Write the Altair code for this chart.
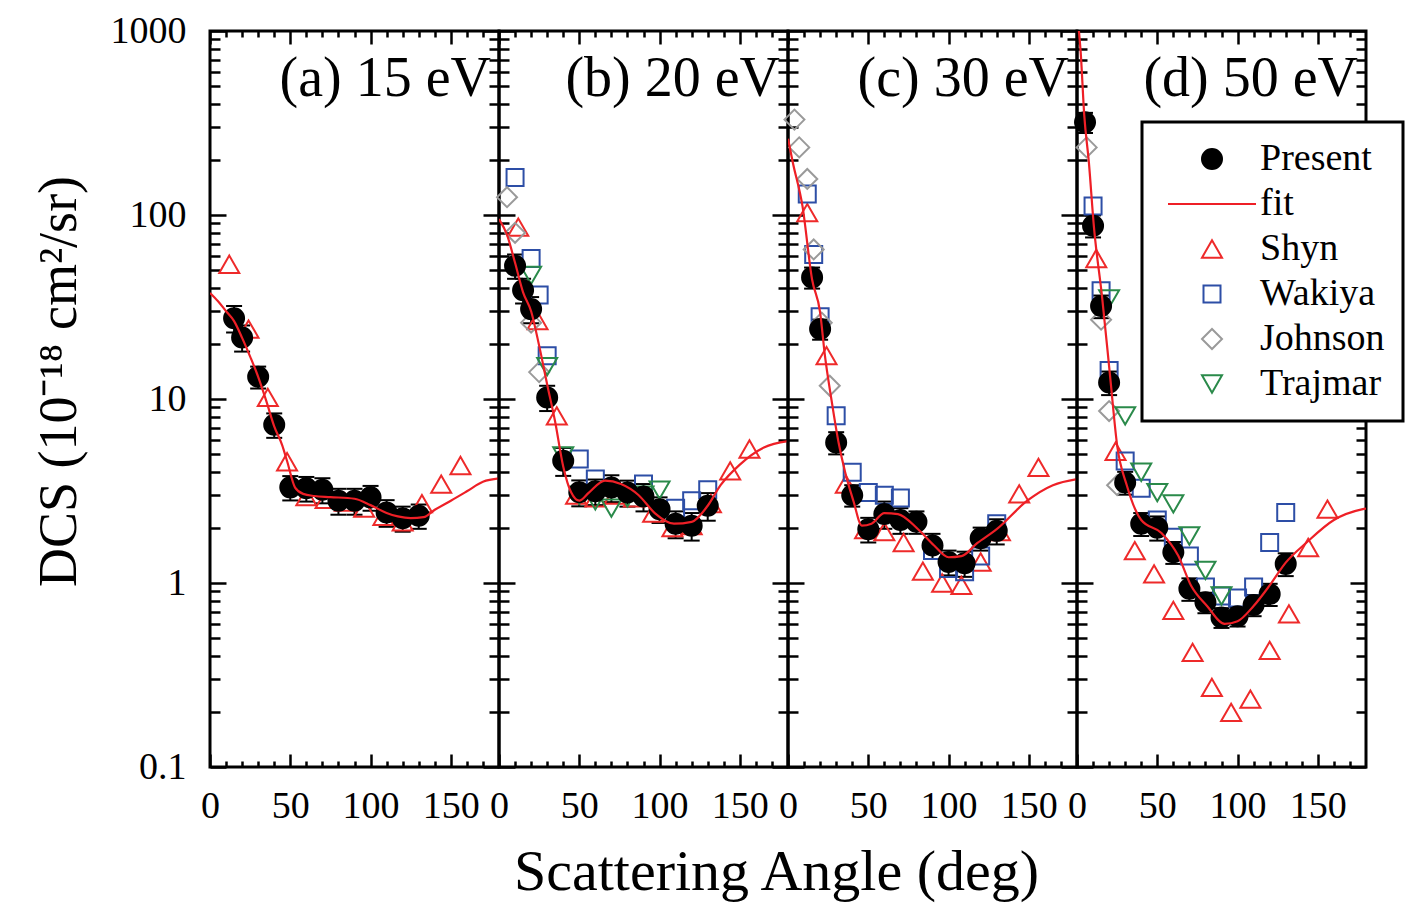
import altair as alt
import pandas as pd

FONT = "Liberation Serif"

SERIES = ["Present", "fit", "Shyn", "Wakiya", "Johnson", "Trajmar"]
SHAPES = ["circle", "M-4.4,0H4.4", "triangle-up", "M-0.85,-0.85H0.85V0.85H-0.85Z",
          "diamond", "triangle-down"]
STROKES = ["#000000", "#ee1f26", "#ee2a2a", "#2d4ea6", "#9a9a9a", "#2a8a4a"]
FILLS = ["#000000", "transparent", "transparent", "transparent", "transparent", "transparent"]

PANEL_KEYS = ["a", "b", "c", "d"]
PANEL_LABELS = ["(a) 15 eV", "(b) 20 eV", "(c) 30 eV", "(d) 50 eV"]
LABEL_ANGLE = 180      # panel labels are right-aligned at the right edge
LABEL_DCS = 443        # baseline height of the panel labels (data units)

Y_MAJOR = [0.1, 1, 10, 100, 1000]
Y_MINOR = [0.2, 0.3, 0.4, 0.5, 0.6, 0.7, 0.8, 0.9,
           2, 3, 4, 5, 6, 7, 8, 9,
           20, 30, 40, 50, 60, 70, 80, 90,
           200, 300, 400, 500, 600, 700, 800, 900]
X_MAJOR = [0, 50, 100, 150]
X_MINOR = [10, 20, 30, 40, 60, 70, 80, 90, 110, 120, 130, 140, 160, 170]

# ---------------- (a) 15 eV ----------------
present_a_angle = [15, 20, 30, 40, 50, 60, 70, 80, 90, 100, 110, 120, 130]
present_a_dcs = [27.5, 21.6, 13.2, 7.25, 3.31, 3.27, 3.21, 2.80, 2.80, 2.92, 2.42, 2.25, 2.32]
present_a_err = [4.5, 3.5, 1.8, 1.1, 0.5, 0.5, 0.5, 0.45, 0.45, 0.45, 0.4, 0.35, 0.35]
shyn_a_angle = [12, 24, 36, 48, 60, 72, 84, 96, 108, 120, 132, 144, 156]
shyn_a_dcs = [54, 24, 10.2, 4.56, 2.95, 2.85, 2.75, 2.55, 2.3, 2.15, 2.7, 3.45, 4.35]
fit_a_angle = [0, 5, 10, 15, 20, 25, 30, 35, 40, 45, 48, 53, 58, 65, 75, 90, 100, 110, 117, 125, 133, 140, 150, 160, 170, 180]
fit_a_dcs = [37.7, 34, 30, 26.5, 21.5, 17, 13.2, 9.8, 7.1, 5.6, 4.6, 3.3, 3.05, 2.97, 2.93, 2.87, 2.65, 2.4, 2.3, 2.25, 2.28, 2.5, 2.8, 3.15, 3.55, 3.7]

# ---------------- (b) 20 eV ----------------
present_b_angle = [10, 15, 20, 30, 40, 50, 60, 70, 80, 90, 100, 110, 120, 130]
present_b_dcs = [53, 39, 30.8, 10.2, 4.62, 3.11, 3.15, 3.3, 3.1, 2.95, 2.52, 2.1, 2.05, 2.63]
present_b_err = [8, 6, 5, 1.6, 0.8, 0.5, 0.5, 0.55, 0.5, 0.5, 0.4, 0.35, 0.35, 0.45]
shyn_b_angle = [12, 24, 36, 48, 60, 72, 84, 96, 108, 120, 132, 144, 156]
shyn_b_dcs = [86, 26.7, 8.1, 3.0, 2.9, 3.0, 2.9, 2.4, 2.0, 2.05, 2.7, 4.07, 5.35]
wakiya_b_angle = [10, 20, 25, 30, 50, 60, 90, 110, 120, 130]
wakiya_b_dcs = [160, 58, 36.7, 17.2, 4.72, 3.67, 3.45, 2.55, 2.8, 3.21]
johnson_b_angle = [5, 10, 20, 25]
johnson_b_dcs = [125, 80, 26, 14]
trajmar_b_angle = [20, 30, 40, 50, 60, 70, 80, 90, 100]
trajmar_b_dcs = [47, 15, 4.9, 3.0, 2.8, 2.55, 2.9, 3.0, 3.2]
fit_b_angle = [0, 5, 10, 15, 20, 25, 30, 35, 40, 45, 50, 56, 66, 76, 87, 97, 109, 120, 130, 138, 150, 165, 180]
fit_b_dcs = [95, 78, 55, 38, 30, 19.5, 12, 7.5, 4.3, 3.1, 2.8, 3.1, 3.6, 3.45, 3.0, 2.4, 2.1, 2.15, 2.63, 3.4, 4.4, 5.45, 5.9]

# ---------------- (c) 30 eV ----------------
present_c_angle = [15, 20, 30, 40, 50, 60, 70, 80, 90, 100, 110, 120, 130]
present_c_dcs = [45.8, 24, 5.8, 3.0, 1.96, 2.37, 2.2, 2.15, 1.6, 1.3, 1.28, 1.75, 1.92]
present_c_err = [6, 3, 0.8, 0.4, 0.3, 0.4, 0.35, 0.3, 0.25, 0.2, 0.2, 0.25, 0.3]
shyn_c_angle = [12, 24, 36, 48, 60, 72, 84, 96, 108, 120, 132, 144, 156]
shyn_c_dcs = [103, 17.2, 3.45, 1.95, 1.9, 1.66, 1.16, 1.0, 0.97, 1.3, 1.9, 3.05, 4.25]
wakiya_c_angle = [12, 16, 20, 30, 40, 50, 60, 70, 90, 100, 110, 120, 130]
wakiya_c_dcs = [130, 61, 28, 8.1, 4.0, 3.1, 3.0, 2.9, 1.5, 1.2, 1.15, 1.4, 2.1]
johnson_c_angle = [4, 7, 12, 16, 21, 26]
johnson_c_dcs = [330, 233, 157, 65, 26, 11.8]
fit_c_angle = [0, 3, 9, 15, 20, 23, 27, 31.5, 35.6, 40.7, 46, 52, 60, 68.5, 81, 91, 100, 108, 118, 130, 149, 165, 180]
fit_c_dcs = [260, 193, 112, 44.6, 29.6, 17.2, 10, 5.8, 4.0, 2.8, 2.05, 2.1, 2.4, 2.37, 1.96, 1.6, 1.38, 1.4, 1.65, 1.96, 2.8, 3.4, 3.67]

# ---------------- (d) 50 eV ----------------
present_d_angle = [5, 10, 15, 20, 30, 40, 50, 60, 70, 80, 90, 100, 110, 120, 130]
present_d_dcs = [319, 87.5, 32, 12.3, 3.52, 2.1, 2.0, 1.47, 0.93, 0.785, 0.65, 0.66, 0.76, 0.87, 1.27]
present_d_err = [40, 12, 4.5, 1.8, 0.5, 0.3, 0.3, 0.2, 0.13, 0.1, 0.08, 0.08, 0.1, 0.12, 0.18]
shyn_d_angle = [12, 24, 36, 48, 60, 72, 84, 96, 108, 120, 132, 144, 156]
shyn_d_dcs = [58, 5.2, 1.5, 1.12, 0.71, 0.42, 0.271, 0.198, 0.234, 0.43, 0.68, 1.56, 2.52]
wakiya_d_angle = [10, 15, 20, 30, 40, 50, 60, 70, 80, 90, 100, 110, 120, 130]
wakiya_d_dcs = [112, 38.8, 14.3, 4.6, 3.27, 2.2, 1.77, 1.4, 0.95, 0.85, 0.83, 0.95, 1.66, 2.42]
johnson_d_angle = [6, 15, 20, 25]
johnson_d_dcs = [233, 27, 8.6, 3.4]
trajmar_d_angle = [20, 30, 40, 50, 60, 70, 80, 90]
trajmar_d_dcs = [35, 8.1, 4.0, 3.1, 2.69, 1.8, 1.17, 0.85]
fit_d_angle = [1.2, 2.3, 4.5, 7.4, 10.5, 15.6, 20.8, 25, 31, 40, 52.6, 63, 71, 81, 92, 100, 110, 120, 130, 143, 160, 178, 180]
fit_d_dcs = [1000, 766, 350, 193, 87, 36, 12.8, 5.6, 3.4, 2.2, 1.87, 1.41, 0.97, 0.75, 0.6, 0.62, 0.75, 0.97, 1.29, 1.66, 2.2, 2.52, 2.54]

MEAS = {
    "a": [("Shyn", shyn_a_angle, shyn_a_dcs, None),
          ("Present", present_a_angle, present_a_dcs, present_a_err)],
    "b": [("Shyn", shyn_b_angle, shyn_b_dcs, None),
          ("Wakiya", wakiya_b_angle, wakiya_b_dcs, None),
          ("Johnson", johnson_b_angle, johnson_b_dcs, None),
          ("Trajmar", trajmar_b_angle, trajmar_b_dcs, None),
          ("Present", present_b_angle, present_b_dcs, present_b_err)],
    "c": [("Shyn", shyn_c_angle, shyn_c_dcs, None),
          ("Wakiya", wakiya_c_angle, wakiya_c_dcs, None),
          ("Johnson", johnson_c_angle, johnson_c_dcs, None),
          ("Present", present_c_angle, present_c_dcs, present_c_err)],
    "d": [("Shyn", shyn_d_angle, shyn_d_dcs, None),
          ("Wakiya", wakiya_d_angle, wakiya_d_dcs, None),
          ("Johnson", johnson_d_angle, johnson_d_dcs, None),
          ("Trajmar", trajmar_d_angle, trajmar_d_dcs, None),
          ("Present", present_d_angle, present_d_dcs, present_d_err)],
}
FITS = {"a": (fit_a_angle, fit_a_dcs), "b": (fit_b_angle, fit_b_dcs),
        "c": (fit_c_angle, fit_c_dcs), "d": (fit_d_angle, fit_d_dcs)}

rows = []
for p, lst in MEAS.items():
    for name, angs, vals, errs in lst:
        for k, (a, v) in enumerate(zip(angs, vals)):
            rows.append({"panel": p, "series": name, "angle": a, "dcs": v,
                         "err": errs[k] if errs else 0.0})
df = pd.DataFrame(rows)
fit_rows = []
for p, (angs, vals) in FITS.items():
    for a, v in zip(angs, vals):
        fit_rows.append({"panel": p, "angle": a, "dcs": v})
df_fit = pd.DataFrame(fit_rows)

LEG = alt.Legend(title=None, orient="none", legendX=932, legendY=91,
                 padding=18, labelOffset=29, symbolOffset=33, rowPadding=7,
                 labelFont=FONT, labelFontSize=38, labelColor="black",
                 fillColor="white", strokeColor="black", symbolSize=400,
                 symbolFillColor="transparent", symbolStrokeWidth=2)

shape_enc = alt.Shape("series:N", scale=alt.Scale(domain=SERIES, range=SHAPES), legend=LEG)
stroke_enc = alt.Stroke("series:N", scale=alt.Scale(domain=SERIES, range=STROKES), legend=LEG)
fill_enc = alt.Fill("series:N", scale=alt.Scale(domain=SERIES, range=FILLS), legend=LEG)

YTITLE = "DCS (10\u207b\u00b9\u2078 cm\u00b2/sr)"
XTITLE = "Scattering Angle (deg)"


def axis_pairs(i):
    first = i == 0
    yl_major = alt.Axis(orient="left", values=Y_MAJOR, tickSize=16, offset=-16,
                        labels=first, format="~g", labelPadding=24, labelFlush=False,
                        title=YTITLE if first else None, titleFontSize=54,
                        titlePadding=24, titleY=350)
    xb_major = alt.Axis(orient="bottom", values=X_MAJOR, tickSize=13, offset=-13,
                        labels=True, format="d", labelPadding=20, labelFlush=False,
                        title=XTITLE if i == 1 else None, titleFontSize=58,
                        titleX=277, titlePadding=18)
    yl_minor = alt.Axis(orient="left", values=Y_MINOR, tickSize=10, offset=-10,
                        labels=False, title=None)
    xb_minor = alt.Axis(orient="bottom", values=X_MINOR, tickSize=6, offset=-6,
                        labels=False, title=None)
    yr_major = alt.Axis(orient="right", values=Y_MAJOR, tickSize=16, offset=-16,
                        labels=False, title=None)
    xt_major = alt.Axis(orient="top", values=X_MAJOR, tickSize=13, offset=-13,
                        labels=False, title=None)
    yr_minor = alt.Axis(orient="right", values=Y_MINOR, tickSize=10, offset=-10,
                        labels=False, title=None)
    xt_minor = alt.Axis(orient="top", values=X_MINOR, tickSize=6, offset=-6,
                        labels=False, title=None)
    return [(yl_major, xb_major), (yl_minor, xb_minor),
            (yr_major, xt_major), (yr_minor, xt_minor)]


def panel_chart(i, key):
    xs = alt.Scale(domain=[0, 180], nice=False, zero=False)
    ys = alt.Scale(type="log", domain=[0.1, 1000], nice=False)

    def X(field="angle", axis=None):
        return alt.X(f"{field}:Q", scale=xs, axis=axis)

    def Y(field="dcs", axis=None):
        return alt.Y(f"{field}:Q", scale=ys, axis=axis)

    base = alt.Chart(df[df.panel == key])
    layers = []
    for yax, xax in axis_pairs(i):
        layers.append(base.mark_point(opacity=0).encode(x=X("angle", xax), y=Y("dcs", yax)))

    err = base.transform_filter(alt.datum.series == "Present").transform_calculate(
        lo="datum.dcs - datum.err", hi="datum.dcs + datum.err")
    layers.append(err.mark_rule(color="black", strokeWidth=2).encode(
        x=X(), y=Y("lo"), y2="hi:Q"))
    layers.append(err.mark_tick(orient="horizontal", color="black", thickness=2,
                                size=16, opacity=1).encode(x=X(), y=Y("lo")))
    layers.append(err.mark_tick(orient="horizontal", color="black", thickness=2,
                                size=16, opacity=1).encode(x=X(), y=Y("hi")))

    layers.append(base.mark_point(filled=False, opacity=1, strokeWidth=2, size=400).encode(
        x=X(), y=Y(), shape=shape_enc, stroke=stroke_enc, fill=fill_enc))

    fit = alt.Chart(df_fit[df_fit.panel == key]).mark_line(
        color="#ee1f26", strokeWidth=2.2, interpolate="monotone", clip=True
    ).encode(x=X(), y=Y())
    layers.append(fit)

    lab = alt.Chart(pd.DataFrame({"label": [PANEL_LABELS[i]], "lx": [LABEL_ANGLE],
                                  "ly": [LABEL_DCS]})).mark_text(
        align="right", baseline="alphabetic", dx=-8, font=FONT, fontSize=56,
        color="black"
    ).encode(x=X("lx"), y=Y("ly"), text="label:N")
    layers.append(lab)

    return alt.layer(*layers).resolve_axis(x="independent", y="independent").properties(
        width=289, height=736)


panels = [panel_chart(i, k) for i, k in enumerate(PANEL_KEYS)]

chart = alt.hconcat(*panels, spacing=0, bounds="flush").properties(
    padding={"left": 30, "top": 10, "right": 0, "bottom": 2},
    background="white",
).configure_view(stroke="black", strokeWidth=3).configure_axis(
    tickColor="black", tickWidth=2.5, labelFont=FONT, labelFontSize=38,
    labelColor="black", titleFont=FONT, titleFontWeight="normal",
    titleColor="black", grid=False, domain=False
).configure_legend(strokeWidth=3)

chart.save("out.html", embed_options={"renderer": "svg", "actions": False})
